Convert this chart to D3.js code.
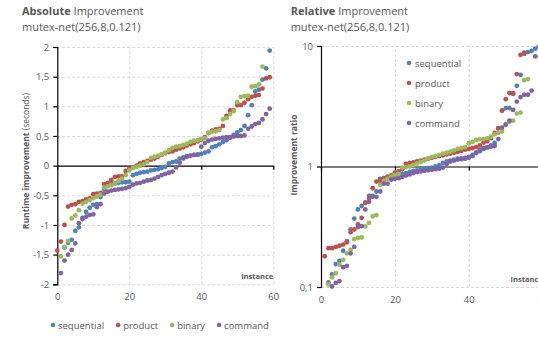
<!DOCTYPE html>
<html>
<head>
<meta charset="utf-8">
<script src="https://cdn.jsdelivr.net/npm/d3@7"></script>
<style>
  body { margin: 0; background: #fff; }
  svg { font-family: "Open Sans", sans-serif; }
</style>
</head>
<body>
<svg id="chart" width="538" height="346"></svg>
<script>
var seriesNames = ["sequential", "product", "binary", "command"];
var seriesColors = ["#4F81BD", "#C0504D", "#9BBB59", "#8064A2"];
var instanceTicks = [0, 20, 40, 60];
var absTicks = [-2, -1.5, -1, -0.5, 0, 0.5, 1, 1.5, 2];
var relTicks = [0.1, 1, 10];

// absolute improvement in seconds, array index = instance, null = no point
var absSequential = [null, null, -1.38, -1.3, -1.25, -1.1, -1.04, -0.88, -0.78, -0.71, -0.66, -0.65, -0.53, -0.4, -0.33, -0.31, -0.3, -0.29, -0.28, -0.28, -0.27, -0.16, -0.14, -0.12, -0.11, -0.1, -0.08, -0.07, -0.06, -0.04, -0.02, 0.04, 0.06, 0.07, 0.12, 0.14, 0.16, 0.17, 0.18, 0.19, 0.2, 0.22, 0.24, 0.31, 0.33, 0.36, 0.4, 0.43, 0.47, 0.52, 0.56, 0.6, 0.67, 0.85, 1.02, 1.25, 1.28, 1.45, 1.64, 1.94];
var absProduct = [-1.43, -1.28, -1.0, -0.69, -0.66, -0.65, -0.61, -0.6, -0.57, -0.55, -0.48, -0.47, -0.46, -0.31, -0.29, -0.24, -0.19, -0.18, -0.18, -0.09, -0.05, -0.03, 0.0, 0.04, 0.06, 0.08, 0.1, 0.12, 0.15, 0.18, 0.21, 0.23, 0.24, 0.27, 0.29, 0.31, 0.34, 0.36, 0.38, 0.41, 0.44, 0.48, 0.55, 0.59, 0.61, 0.62, 0.67, 0.84, 0.93, 0.93, 1.02, 1.02, 1.06, 1.12, 1.16, 1.18, 1.19, 1.3, 1.47, 1.49];
var absBinary = [null, -1.53, -1.37, -1.27, -0.89, -0.84, -0.75, -0.64, -0.61, -0.58, -0.55, -0.52, -0.49, -0.37, -0.35, -0.33, -0.3, -0.26, -0.22, -0.16, -0.08, -0.04, -0.02, 0.0, 0.02, 0.06, 0.13, 0.15, 0.17, 0.19, 0.22, 0.26, 0.3, 0.32, 0.33, 0.35, 0.37, 0.4, 0.42, 0.43, 0.45, 0.46, 0.56, 0.57, 0.58, 0.6, 0.78, 0.8, 0.87, 0.92, 1.07, 1.16, 1.17, 1.18, 1.33, 1.34, 1.37, 1.67];
var absCommand = [null, -1.81, -1.6, -1.5, -1.42, -1.31, -0.97, -0.9, -0.86, -0.83, -0.82, -0.7, -0.65, -0.47, -0.44, -0.42, -0.41, -0.4, -0.39, -0.38, -0.36, -0.32, -0.3, -0.29, -0.27, -0.25, -0.24, -0.22, -0.19, -0.16, -0.14, -0.12, -0.1, -0.03, 0.05, 0.12, 0.15, 0.17, 0.18, 0.18, 0.32, 0.38, 0.42, 0.44, 0.45, 0.46, 0.47, 0.48, 0.48, 0.49, 0.5, 0.5, 0.51, 0.62, 0.66, 0.7, 0.72, 0.78, 0.87, 0.96];

// improvement ratio (log axis), array index = instance
var relSequential = [null, null, 0.109, 0.127, 0.155, 0.165, 0.2, 0.24, 0.3, 0.37, 0.44, 0.47, 0.5, 0.57, 0.57, 0.62, 0.79, 0.8, 0.82, 0.84, 0.85, 0.86, 0.87, 0.88, 0.9, 0.92, 0.93, 0.95, 0.96, 0.97, 0.98, 1.0, 1.02, 1.07, 1.1, 1.12, 1.14, 1.16, 1.17, 1.18, 1.2, 1.25, 1.3, 1.34, 1.4, 1.44, 1.5, 1.57, 2.08, 2.9, 3.05, 3.05, 4.0, 4.67, 5.76, 8.6, 8.9, 9.1, 9.5, 9.9];
var relProduct = [null, 0.18, 0.21, 0.21, 0.215, 0.22, 0.225, 0.235, 0.285, 0.3, 0.33, 0.375, 0.5, 0.54, 0.66, 0.75, 0.76, 0.8, 0.82, 0.84, 0.89, 0.91, 0.95, 1.05, 1.07, 1.08, 1.1, 1.12, 1.14, 1.16, 1.18, 1.2, 1.22, 1.24, 1.26, 1.28, 1.3, 1.32, 1.35, 1.38, 1.4, 1.42, 1.45, 1.5, 1.58, 1.62, 1.72, 1.9, 2.08, 2.92, 3.62, 4.07, 4.07, 5.85, 8.45, 8.8];
var relBinary = [null, null, 0.105, 0.12, 0.13, 0.153, 0.168, 0.19, 0.203, 0.25, 0.255, 0.258, 0.318, 0.34, 0.385, 0.395, 0.705, 0.76, 0.79, 0.82, 0.85, 0.87, 0.98, 0.99, 1.0, 1.03, 1.06, 1.09, 1.12, 1.17, 1.2, 1.22, 1.25, 1.28, 1.3, 1.33, 1.36, 1.4, 1.42, 1.45, 1.56, 1.6, 1.66, 1.68, 1.69, 1.72, 1.77, 1.85, 1.9, 1.95, 2.25, 2.35, 2.4, 2.75, 2.8, 5.2, 5.3];
var relCommand = [null, null, null, 0.101, 0.108, 0.112, 0.146, 0.15, 0.19, 0.215, 0.314, 0.32, 0.44, 0.51, 0.56, 0.56, 0.62, 0.72, 0.72, 0.78, 0.79, 0.8, 0.82, 0.84, 0.86, 0.88, 0.9, 0.91, 0.92, 0.93, 0.94, 0.95, 0.96, 0.98, 1.05, 1.1, 1.12, 1.14, 1.15, 1.16, 1.18, 1.22, 1.3, 1.38, 1.42, 1.44, 1.46, 1.48, 1.69, 2.1, 2.22, 2.4, 2.95, 3.46, 3.77, 3.94, 3.94, 4.27, 8.2];

var svg = d3.select("#chart");
var textColor = "#595959";
var gridColor = "#d9d9d9";

// Excel style numbers with comma decimal and plain hyphen
var locale = d3.formatLocale({decimal: ",", thousands: ".", grouping: [3], currency: ["", ""], minus: "-"});
var numFormat = locale.format("~g");

function drawPanel(p) {
    var g = svg.append("g");
    var x = d3.scaleLinear().domain([0, 60]).range(p.xRange);
    var y = p.yScale;

    // dashed grid lines
    g.append("g")
        .attr("transform", "translate(0," + p.yRange[0] + ")")
        .call(d3.axisBottom(x).tickValues(instanceTicks.slice(1)).tickSize(p.yRange[1] - p.yRange[0]).tickFormat(""))
        .call(function (a) { a.select(".domain").remove(); })
        .selectAll("line").attr("stroke", gridColor).attr("stroke-dasharray", "3,2");
    g.append("g")
        .attr("transform", "translate(" + p.xRange[0] + ",0)")
        .call(d3.axisRight(y).tickValues(p.yTicks.filter(function (t) { return t !== p.base; }))
            .tickSize(p.xRange[1] - p.xRange[0]).tickFormat(""))
        .call(function (a) { a.select(".domain").remove(); })
        .selectAll("line").attr("stroke", gridColor).attr("stroke-dasharray", "3,2");

    // y axis with ticks and labels
    var yAxis = g.append("g")
        .attr("transform", "translate(" + p.xRange[0] + ",0)")
        .call(d3.axisLeft(y).tickValues(p.yTicks).tickSize(4).tickPadding(4).tickFormat(numFormat));
    yAxis.selectAll("line, path").attr("stroke", "#000").attr("stroke-width", 1.2);
    yAxis.selectAll("text").attr("fill", textColor).style("font-size", "9.5px").style("font-family", "Open Sans");

    // horizontal axis crossing at base value
    var xAxis = g.append("g")
        .attr("transform", "translate(0," + y(p.base) + ")")
        .call(d3.axisBottom(x).tickValues(instanceTicks).tickSize(4).tickSizeOuter(0).tickFormat(""));
    xAxis.selectAll("line, path").attr("stroke", "#000").attr("stroke-width", 1.2);

    // instance labels sit below the plot
    var xLabels = g.append("g")
        .attr("transform", "translate(0," + (p.yRange[0] + 6) + ")")
        .call(d3.axisBottom(x).tickValues(instanceTicks).tickSize(0).tickFormat(d3.format("d")));
    xLabels.select(".domain").remove();
    xLabels.selectAll("text").attr("fill", textColor).style("font-size", "9.5px").style("font-family", "Open Sans");

    // points
    var clipId = "clip" + p.id;
    svg.append("clipPath").attr("id", clipId).append("rect")
        .attr("x", p.xRange[0] - 4).attr("y", p.yRange[1] - 4)
        .attr("width", p.xRange[1] - p.xRange[0] + 8).attr("height", p.yRange[0] - p.yRange[1] + 8);
    var pts = g.append("g").attr("clip-path", "url(#" + clipId + ")");
    p.series.forEach(function (vals, k) {
        var data = vals.map(function (v, i) { return {i: i, v: v}; })
            .filter(function (d) { return d.v !== null; });
        pts.append("g").selectAll("circle")
            .data(data)
            .enter().append("circle")
            .attr("cx", function (d) { return x(d.i); })
            .attr("cy", function (d) { return y(d.v); })
            .attr("r", 2.4)
            .attr("fill", seriesColors[k]);
    });

    // titles
    var t = g.append("text").attr("x", p.titleX).attr("y", 15)
        .attr("fill", textColor).style("font-size", "11px");
    t.append("tspan").attr("font-weight", "bold").text(p.titleBold);
    t.append("tspan").text(" Improvement");
    g.append("text").attr("x", p.titleX).attr("y", 31)
        .attr("fill", textColor).style("font-size", "11px")
        .text("mutex-net(256,8,0.121)");

    // vertical axis title
    var yt = g.append("text")
        .attr("transform", "translate(" + p.yTitleX + "," + p.yTitleY + ") rotate(-90)")
        .attr("text-anchor", "middle").attr("fill", textColor).style("font-size", "8.5px");
    yt.append("tspan").attr("font-weight", "bold").text(p.yTitleBold);
    if (p.yTitleRest) yt.append("tspan").text(p.yTitleRest);

    g.append("text")
        .attr("x", x(60)).attr("y", p.yRange[0] - 5)
        .attr("text-anchor", "end").attr("fill", textColor)
        .attr("font-weight", "bold").style("font-size", "7.5px")
        .text("Instance");
}

drawPanel({
    id: "abs",
    xRange: [57.3, 273.3],
    yRange: [284.3, 47],
    yScale: d3.scaleLinear().domain([-2, 2]).range([284.3, 47]),
    yTicks: absTicks,
    base: 0,
    series: [absSequential, absProduct, absBinary, absCommand],
    titleX: 22, titleBold: "Absolute",
    yTitleX: 29, yTitleY: 161, yTitleBold: "Runtime improvement", yTitleRest: " (seconds)"
});

drawPanel({
    id: "rel",
    xRange: [321, 542.7],
    yRange: [287, 46],
    yScale: d3.scaleLog().domain([0.1, 10]).range([287, 46]),
    yTicks: relTicks,
    base: 1,
    series: [relSequential, relProduct, relBinary, relCommand],
    titleX: 290.7, titleBold: "Relative",
    yTitleX: 297, yTitleY: 155, yTitleBold: "Improvement ratio", yTitleRest: null
});

// legend under the left chart
var legendBottom = svg.append("g").attr("transform", "translate(53,325)");
var lx = 0;
seriesNames.forEach(function (name, k) {
    legendBottom.append("circle").attr("cx", lx).attr("cy", 0).attr("r", 2.3).attr("fill", seriesColors[k]);
    var txt = legendBottom.append("text").attr("x", lx + 5).attr("y", 3.5)
        .attr("fill", textColor).style("font-size", "9.5px").text(name);
    lx += 5 + txt.node().getComputedTextLength() + 14;
});

// legend inside the right chart
var legendRight = svg.append("g").attr("transform", "translate(409,63)");
seriesNames.forEach(function (name, k) {
    legendRight.append("circle").attr("cx", 0).attr("cy", k * 20).attr("r", 2.3).attr("fill", seriesColors[k]);
    legendRight.append("text").attr("x", 6).attr("y", k * 20 + 3.5)
        .attr("fill", textColor).style("font-size", "9.5px").text(name);
});
</script>
</body>
</html>
